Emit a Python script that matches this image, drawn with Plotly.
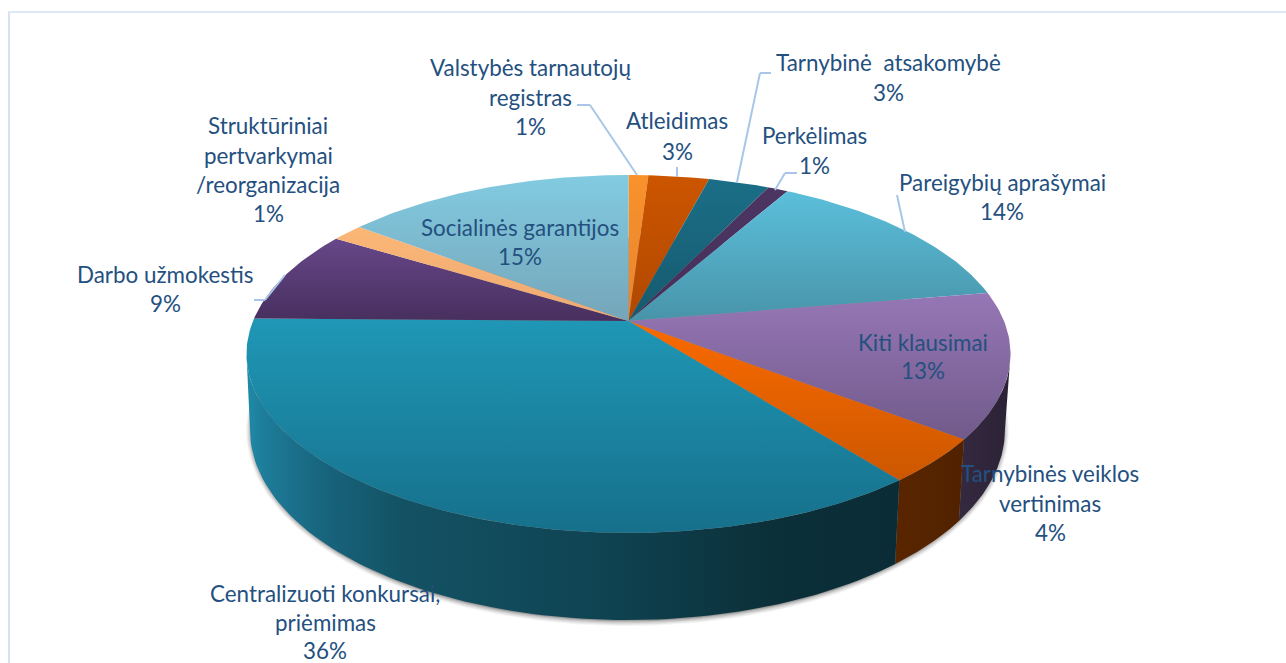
import numpy as np
import plotly.graph_objects as go

# ---- data ----
categories = ["Valstybės tarnautojų registras", "Atleidimas", "Tarnybinė atsakomybė", "Perkėlimas",
              "Pareigybių aprašymai", "Kiti klausimai", "Tarnybinės veiklos vertinimas",
              "Centralizuoti konkursai, priėmimas", "Darbo užmokestis",
              "Struktūriniai pertvarkymai /reorganizacija", "Socialinės garantijos"]
values = [1.0, 3.07, 3.08, 1.02, 14.15, 13.1, 4.0, 35.8, 8.5, 1.6, 14.68]
top_light = ["#F9922B", "#CC5500", "#1B6E87", "#4C3562", "#5BBFDB", "#9677B6", "#FA6A00", "#1F97B6",
             "#674789", "#FCB776", "#82CBE1"]
top_dark = ["#E8842E", "#B04800", "#155A6E", "#46305A", "#4894A9", "#715A8A", "#CC5700", "#16708B",
            "#472F5E", "#ECA974", "#75A5B9"]
side_scales = {
    5: [[0, "#34293F"], [1, "#2C2236"]],
    6: [[0, "#592500"], [1, "#512200"]],
    7: [[0, "#1F8AA8"], [0.03, "#1D7C98"], [0.07, "#1B708C"], [0.13, "#17627A"], [0.24, "#135264"],
        [0.55, "#0F4352"], [0.8, "#0B3039"], [1, "#0A2C36"]],
}
label_lines = [
    ["Valstybės tarnautojų", "registras", "1%"], ["Atleidimas", "3%"], ["Tarnybinė  atsakomybė", "3%"],
    ["Perkėlimas", "1%"], ["Pareigybių aprašymai", "14%"], ["Kiti klausimai", "13%"],
    ["Tarnybinės veiklos", "vertinimas", "4%"], ["Centralizuoti konkursai,", "priėmimas", "36%"],
    ["Darbo užmokestis", "9%"], ["Struktūriniai", "pertvarkymai", "/reorganizacija", "1%"],
    ["Socialinės garantijos", "15%"],
]
label_x = [530, 677, 888, 814, 1002, 923, 1050, 325, 165, 268, 520]
label_y = [[67.5, 97.5, 126.5], [120.5, 151.5], [62.5, 92.5], [135.5, 165.5], [182.5, 211.5], [342.5, 370.5],
           [473.5, 503.5, 532.5], [593.5, 622.5, 650], [274.5, 303.5], [125.5, 155.5, 184.5, 213.5], [227.5, 256.5]]
leaders = [
    [(577, 105), (590, 105), (637, 175)], [(677, 167), (677, 177)], [(771, 73), (760, 73), (737, 182)],
    [(797, 173), (785, 173), (775, 190)], [(897, 195), (905, 232)], [(254, 300), (265, 300), (285, 275)],
]

# ---- projection of the pie ----
X0, PERSP = 628.5, 0.184
TOP = dict(x0=X0, b=375.5, a=172.9, y0=321.0)
BOT = dict(x0=X0 - 1.0, b=371.0, a=183.6, y0=395.0)
T_RIGHT = np.arccos(-PERSP)
T_LEFT = 2 * np.pi - T_RIGHT


def project(t, r, p):
    u, v = r * np.sin(t), r * np.cos(t)
    w = 1 + PERSP * v
    return p["x0"] + p["b"] * u / w, p["y0"] - p["a"] * v / w


fracs = np.cumsum([0] + values) / sum(values) * 2 * np.pi
fig = go.Figure()

# soft shadow under the rim
all_t = np.linspace(0, 2 * np.pi, 361)
for grow, alpha in [(5.5, 0.05), (4.5, 0.07), (3.5, 0.09), (2.5, 0.12), (1.5, 0.16), (0.8, 0.2)]:
    sx, sy = project(all_t, 1, BOT)
    cx = sx.mean()
    cy = sy.mean()
    sx2 = cx + (sx - cx) * (1 + (grow - 1.5) / 375)
    sy2 = cy + (sy - cy) * (1 + grow / 190)
    fig.add_trace(go.Scatter(x=sx2, y=sy2, mode="lines", fill="toself", line=dict(width=0),
                             fillcolor=f"rgba(60,60,60,{alpha})", hoverinfo="skip"))

# side walls: only the part of the rim between the two silhouette points
for i, scale in side_scales.items():
    t = np.linspace(max(fracs[i], T_RIGHT), min(fracs[i + 1], T_LEFT), 90)
    tx, ty = project(t, 1, TOP)
    bx, by = project(t[::-1], 1, BOT)
    fig.add_trace(go.Scatter(x=np.r_[tx, bx], y=np.r_[ty, by], mode="lines", fill="toself",
                             line=dict(width=0), hoverinfo="skip",
                             fillgradient=dict(type="horizontal", colorscale=scale)))

# top faces
for i, name in enumerate(categories):
    n = max(int((fracs[i + 1] - fracs[i]) * 60), 6)
    t = np.linspace(fracs[i], fracs[i + 1], n)
    x, y = project(t, 1, TOP)
    ax, ay = project(np.array([0.0]), 0, TOP)
    fig.add_trace(go.Scatter(x=np.r_[ax, x, ax], y=np.r_[ay, y, ay], mode="lines", fill="toself",
                             line=dict(width=0), name=name, hoverinfo="name",
                             fillgradient=dict(type="vertical",
                                               colorscale=[[0, top_dark[i]], [1, top_light[i]]])))

shapes = [
    dict(type="line", xref="x", yref="y", x0=9, x1=9, y0=12, y1=663, line=dict(color="#D5E2F4", width=2), layer="above"),
    dict(type="line", xref="x", yref="y", x0=8, x1=1286, y0=12, y1=12, line=dict(color="#DDE7F5", width=2), layer="above"),
]
for pts in leaders:
    for (a, b) in zip(pts[:-1], pts[1:]):
        shapes.append(dict(type="line", xref="x", yref="y", x0=a[0], y0=a[1], x1=b[0], y1=b[1],
                           line=dict(color="#A9C6E9", width=2), layer="above"))

annotations = []
for lines, lx, ys in zip(label_lines, label_x, label_y):
    for s, ly in zip(lines, ys):
        annotations.append(dict(x=lx, y=ly, xref="x", yref="y", text=s, showarrow=False,
                                xanchor="center", yanchor="middle",
                                font=dict(family="Lato", size=22.4, color="#24507F")))

fig.update_layout(
    width=1286, height=663, margin=dict(l=0, r=0, t=0, b=0), showlegend=False,
    paper_bgcolor="white", plot_bgcolor="white", shapes=shapes, annotations=annotations,
    xaxis=dict(range=[0, 1286], visible=False, fixedrange=True),
    yaxis=dict(range=[663, 0], visible=False, fixedrange=True),
)
fig.write_html("out.html", config=dict(displayModeBar=False),
               post_script="document.body.style.margin='0';document.documentElement.style.overflow='hidden';")
